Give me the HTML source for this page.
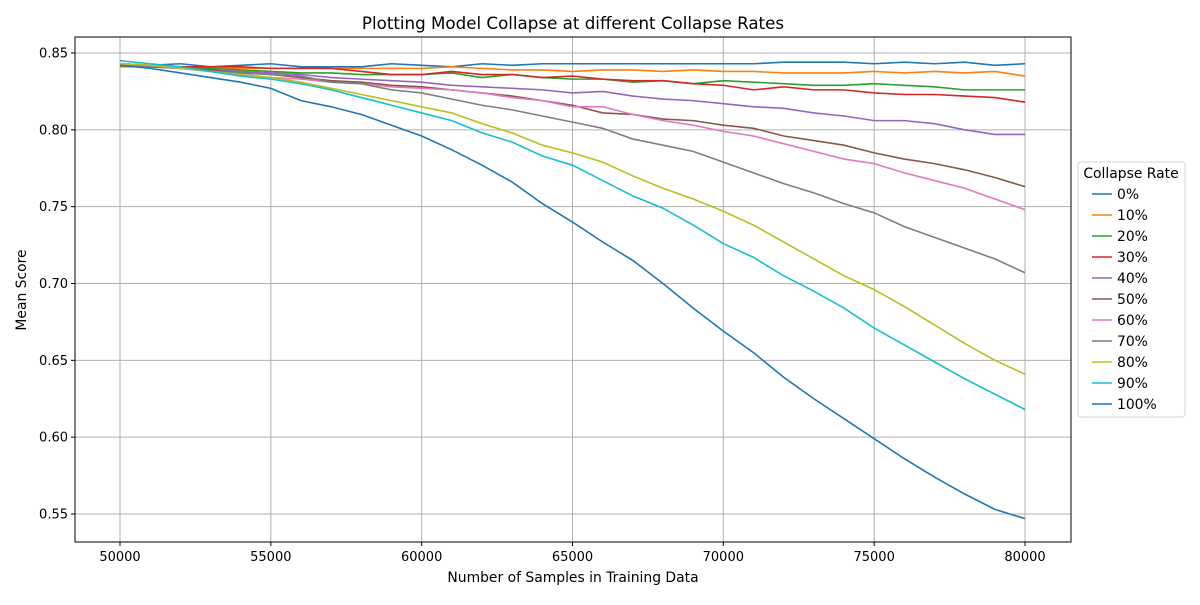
<!DOCTYPE html>
<html><head><meta charset="utf-8"><style>
body{margin:0;background:#fff;}
svg text{font-family:"DejaVu Sans","Liberation Sans",sans-serif;fill:#000;}
</style></head><body>
<svg id="chart" width="1200" height="600" xmlns="http://www.w3.org/2000/svg">
<rect width="1200" height="600" fill="#fff"/>
<g id="grid"></g>
<g id="lines"></g>
<rect x="75" y="37" width="996" height="505" fill="none" stroke="#000" stroke-width="1"/>
<g id="ticks"></g>
<text x="573" y="29" font-size="16.7" text-anchor="middle">Plotting Model Collapse at different Collapse Rates</text>
<text x="573" y="582" font-size="13.9" text-anchor="middle">Number of Samples in Training Data</text>
<text transform="translate(26,290) rotate(-90)" font-size="13.9" text-anchor="middle">Mean Score</text>
<g id="legend"></g>
</svg>
<script>
const xs = [50000,51000,52000,53000,54000,55000,56000,57000,58000,59000,60000,61000,62000,63000,64000,65000,66000,67000,68000,69000,70000,71000,72000,73000,74000,75000,76000,77000,78000,79000,80000];
const seriesNames = ["0%","10%","20%","30%","40%","50%","60%","70%","80%","90%","100%"];
const colors = ["#1f77b4","#ff7f0e","#2ca02c","#d62728","#9467bd","#8c564b","#e377c2","#7f7f7f","#bcbd22","#17becf","#1f77b4"];
const s0 = [0.843,0.842,0.843,0.841,0.842,0.843,0.841,0.841,0.841,0.843,0.842,0.841,0.843,0.842,0.843,0.843,0.843,0.843,0.843,0.843,0.843,0.843,0.844,0.844,0.844,0.843,0.844,0.843,0.844,0.842,0.843];
const s10 = [0.841,0.841,0.840,0.840,0.840,0.840,0.840,0.840,0.840,0.840,0.840,0.841,0.840,0.839,0.839,0.838,0.839,0.839,0.838,0.839,0.838,0.838,0.837,0.837,0.837,0.838,0.837,0.838,0.837,0.838,0.835];
const s20 = [0.842,0.842,0.841,0.840,0.839,0.838,0.837,0.837,0.836,0.836,0.836,0.837,0.834,0.836,0.834,0.833,0.833,0.831,0.832,0.830,0.832,0.831,0.830,0.829,0.829,0.830,0.829,0.828,0.826,0.826,0.826];
const s30 = [0.842,0.842,0.841,0.841,0.841,0.840,0.840,0.840,0.838,0.836,0.836,0.838,0.836,0.836,0.834,0.835,0.833,0.832,0.832,0.830,0.829,0.826,0.828,0.826,0.826,0.824,0.823,0.823,0.822,0.821,0.818];
const s40 = [0.843,0.842,0.840,0.839,0.838,0.837,0.836,0.834,0.833,0.832,0.831,0.829,0.828,0.827,0.826,0.824,0.825,0.822,0.820,0.819,0.817,0.815,0.814,0.811,0.809,0.806,0.806,0.804,0.800,0.797,0.797];
const s50 = [0.842,0.841,0.840,0.839,0.837,0.836,0.834,0.832,0.831,0.829,0.828,0.826,0.824,0.822,0.819,0.816,0.811,0.810,0.807,0.806,0.803,0.801,0.796,0.793,0.790,0.785,0.781,0.778,0.774,0.769,0.763];
const s60 = [0.843,0.842,0.840,0.838,0.836,0.834,0.833,0.831,0.830,0.828,0.827,0.826,0.824,0.821,0.819,0.815,0.815,0.810,0.806,0.803,0.799,0.796,0.791,0.786,0.781,0.778,0.772,0.767,0.762,0.755,0.748];
const s70 = [0.842,0.841,0.840,0.838,0.837,0.836,0.835,0.831,0.830,0.826,0.824,0.820,0.816,0.813,0.809,0.805,0.801,0.794,0.790,0.786,0.779,0.772,0.765,0.759,0.752,0.746,0.737,0.730,0.723,0.716,0.707];
const s80 = [0.843,0.842,0.840,0.838,0.836,0.834,0.831,0.827,0.823,0.819,0.815,0.811,0.804,0.798,0.790,0.785,0.779,0.770,0.762,0.755,0.747,0.738,0.727,0.716,0.705,0.696,0.685,0.673,0.661,0.650,0.641];
const s90 = [0.845,0.843,0.841,0.838,0.835,0.833,0.830,0.826,0.821,0.816,0.811,0.806,0.798,0.792,0.783,0.777,0.767,0.757,0.749,0.738,0.726,0.717,0.705,0.695,0.684,0.671,0.660,0.649,0.638,0.628,0.618];
const s100 = [0.842,0.840,0.837,0.834,0.831,0.827,0.819,0.815,0.810,0.803,0.796,0.787,0.777,0.766,0.752,0.740,0.727,0.715,0.700,0.684,0.669,0.655,0.639,0.625,0.612,0.599,0.586,0.574,0.563,0.553,0.547];
const allSeries = [s0,s10,s20,s30,s40,s50,s60,s70,s80,s90,s100];
const xTicks = [50000,55000,60000,65000,70000,75000,80000];
const yTicks = [0.55,0.60,0.65,0.70,0.75,0.80,0.85];

const NS = "http://www.w3.org/2000/svg";
function X(v){return 120 + (v-50000)/30000*905;}
function Y(v){return 53 + (0.85-v)/0.30*461;}
function mk(tag, attrs, parent){const e=document.createElementNS(NS,tag);for(const k in attrs)e.setAttribute(k,attrs[k]);parent.appendChild(e);return e;}
const grid=document.getElementById('grid'), ticks=document.getElementById('ticks'), lines=document.getElementById('lines'), legend=document.getElementById('legend');
xTicks.forEach(t=>{
  const g=mk('line',{x1:X(t),x2:X(t),y1:37,y2:542,stroke:'#b0b0b0','stroke-width':1},grid);
  
  
  mk('line',{x1:X(t),x2:X(t),y1:542,y2:546,stroke:'#000'},ticks);
  const tx=mk('text',{x:X(t),y:561,'font-size':13,'text-anchor':'middle'},ticks);
  tx.textContent=t;
  
  
});
yTicks.forEach(t=>{
  const g=mk('line',{x1:75,x2:1071,y1:Y(t),y2:Y(t),stroke:'#b0b0b0','stroke-width':1},grid);
  
  
  mk('line',{x1:71,x2:75,y1:Y(t),y2:Y(t),stroke:'#000'},ticks);
  const tx=mk('text',{x:68,y:Y(t)+4.5,'font-size':13,'text-anchor':'end'},ticks);
  tx.textContent=t.toFixed(2);
  
  
});
allSeries.forEach((s,i)=>{
  const p=mk('polyline',{points:s.map((v,j)=>X(xs[j])+','+Y(v)).join(' '),fill:'none',stroke:colors[i],'stroke-width':1.6},lines);
  
  
});
mk('rect',{x:1078,y:162,width:107,height:255,rx:3,fill:'#fff',stroke:'#d0d0d0'},legend);
const lt=mk('text',{x:1131,y:178,'font-size':13.9,'text-anchor':'middle'},legend);
lt.textContent='Collapse Rate';


seriesNames.forEach((n,i)=>{
  const y=194+i*21;
  const g=mk('g',{},legend);
  
  
  mk('line',{x1:1092,x2:1112,y1:y,y2:y,stroke:colors[i],'stroke-width':1.6},g);
  const t=mk('text',{x:1117,y:y+5,'font-size':13.9},g);
  t.textContent=n;
});
</script>
</body></html>
